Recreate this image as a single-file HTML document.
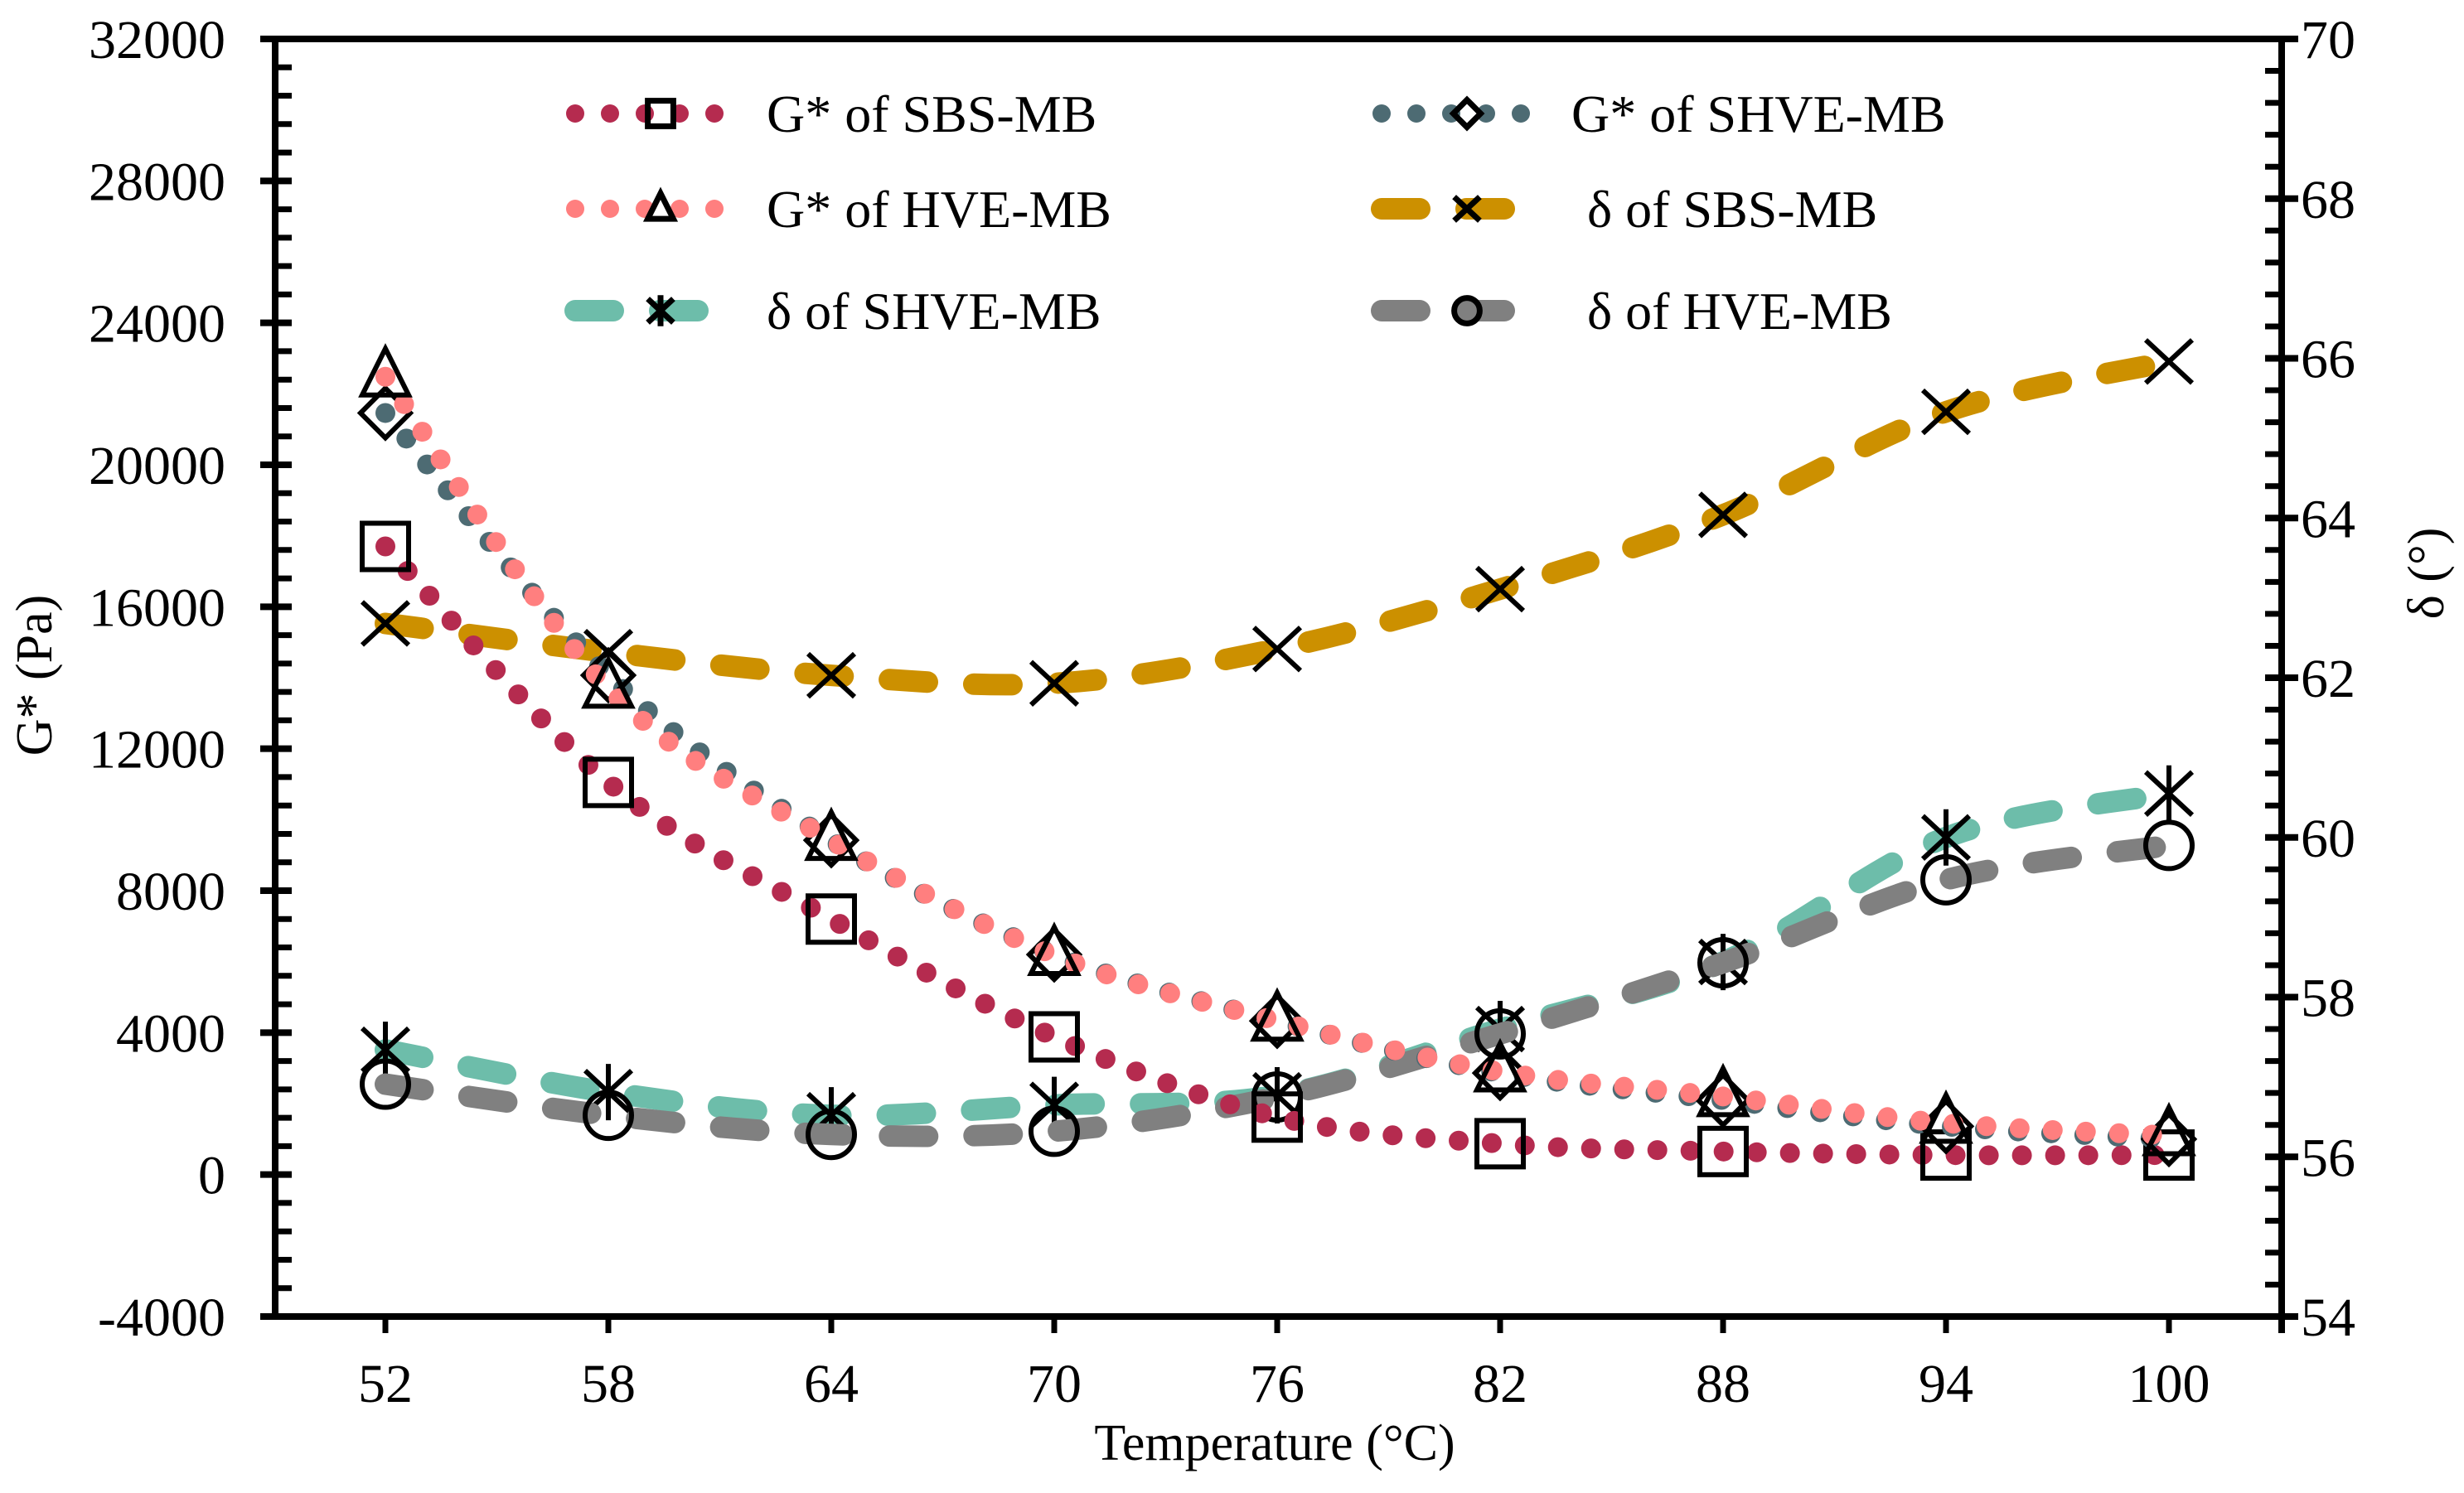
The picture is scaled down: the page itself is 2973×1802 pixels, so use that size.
<!DOCTYPE html>
<html><head><meta charset="utf-8"><style>
html,body{margin:0;padding:0;background:#fff}
svg{display:block}
text{font-family:"Liberation Serif",serif;fill:#000}
</style></head><body>
<svg id="chart" width="2973" height="1802" viewBox="0 0 2973 1802" xmlns="http://www.w3.org/2000/svg">
<g id="axes"></g>
<g id="series"></g>
<g id="legend"></g>
<text transform="translate(62,815) rotate(-90)" text-anchor="middle" font-size="62">G* (Pa)</text>
<text transform="translate(2948,692) rotate(-90)" text-anchor="middle" font-size="62">δ (°)</text>
<text x="1538" y="1762" text-anchor="middle" font-size="62">Temperature (°C)</text>
</svg>
<script>
const categories = [52,58,64,70,76,82,88,94,100];
const gSBS  = [17700,11050,7200,3880,1620,870,650,550,550];
const gSHVE = [21460,14070,9420,6200,4330,2860,2100,1360,1000];
const gHVE  = [22480,13710,9420,6180,4330,2900,2200,1450,1100];
const dSBS  = [62.68,62.32,62.03,61.93,62.36,63.11,64.04,65.33,65.96];
const dSHVE = [57.34,56.81,56.52,56.65,56.77,57.60,58.44,60.00,60.55];
const dHVE  = [56.91,56.52,56.28,56.32,56.75,57.54,58.43,59.47,59.90];
const yTicks = [-4000,0,4000,8000,12000,16000,20000,24000,28000,32000];
const y2Ticks = [54,56,58,60,62,64,66,68,70];

const NS="http://www.w3.org/2000/svg";
const L=332,R=2753,T=47,B=1589;
const x=i=>465+i*(2617-465)/(categories.length-1);
const y=v=>B-(v+4000)/36000*(B-T);
const y2=v=>B-(v-54)/16*(B-T);
function mk(parent,tag,attrs){const e=document.createElementNS(NS,tag);for(const k in attrs)e.setAttribute(k,attrs[k]);parent.appendChild(e);return e;}
const axes=document.getElementById('axes'),ser=document.getElementById('series'),leg=document.getElementById('legend');

let a;
a=mk(axes,'line',{x1:L-4,y1:B,x2:R+4,y2:B,stroke:'#000','stroke-width':8});

a=mk(axes,'line',{x1:L-18,y1:T,x2:R+4,y2:T,stroke:'#000','stroke-width':8});

a=mk(axes,'line',{x1:L,y1:T,x2:L,y2:B+4,stroke:'#000','stroke-width':8});

a=mk(axes,'line',{x1:R,y1:T,x2:R,y2:B+20,stroke:'#000','stroke-width':8});


yTicks.forEach((v,i)=>{
  const t=mk(axes,'line',{x1:L-18,y1:y(v),x2:L+20,y2:y(v),stroke:'#000','stroke-width':8});
  
  const tx=mk(axes,'text',{x:272,y:y(v)+23,'text-anchor':'end','font-size':66});tx.textContent=v;
  
  if(i<yTicks.length-1)for(let k=1;k<5;k++){
    const m=mk(axes,'line',{x1:L,y1:y(v+k*800),x2:L+20,y2:y(v+k*800),stroke:'#000','stroke-width':7});
    
  }
});
y2Ticks.forEach((v,i)=>{
  const t=mk(axes,'line',{x1:R-20,y1:y2(v),x2:R+20,y2:y2(v),stroke:'#000','stroke-width':8});
  
  const tx=mk(axes,'text',{x:2776,y:y2(v)+23,'text-anchor':'start','font-size':66});tx.textContent=v;
  
  if(i<y2Ticks.length-1)for(let k=1;k<5;k++){
    const m=mk(axes,'line',{x1:R-20,y1:y2(v+k*0.4),x2:R,y2:y2(v+k*0.4),stroke:'#000','stroke-width':7});
    
  }
});
categories.forEach((c,i)=>{
  const t=mk(axes,'line',{x1:x(i),y1:B,x2:x(i),y2:B+20,stroke:'#000','stroke-width':7});
  
  const tx=mk(axes,'text',{x:x(i),y:1692,'text-anchor':'middle','font-size':66});tx.textContent=c;
  
});

function smooth(pts){
  let d=`M${pts[0][0]},${pts[0][1]}`;
  for(let i=0;i<pts.length-1;i++){
    const p0=pts[Math.max(0,i-1)],p1=pts[i],p2=pts[i+1],p3=pts[Math.min(pts.length-1,i+2)];
    const c1=[p1[0]+(p2[0]-p0[0])/6,p1[1]+(p2[1]-p0[1])/6];
    const c2=[p2[0]-(p3[0]-p1[0])/6,p2[1]-(p3[1]-p1[1])/6];
    d+=` C${c1[0]},${c1[1]} ${c2[0]},${c2[1]} ${p2[0]},${p2[1]}`;
  }
  return d;
}
function marker(g,type,cx,cy,s){
  s=s||1;
  const st={fill:'none',stroke:'#000','stroke-width':s<1?7:6};let e;
  const q=n=>n*s;
  if(type==='square')e=mk(g,'rect',Object.assign({x:cx-q(28),y:cy-q(28),width:q(56),height:q(56)},st));
  else if(type==='diamond')e=mk(g,'path',Object.assign({d:`M${cx},${cy-q(30)}L${cx+q(30)},${cy}L${cx},${cy+q(30)}L${cx-q(30)},${cy}Z`},st));
  else if(type==='triangle')e=mk(g,'path',Object.assign({d:`M${cx},${cy-q(34)}L${cx+q(28)},${cy+q(22)}L${cx-q(28)},${cy+q(22)}Z`},st));
  else if(type==='x')e=mk(g,'path',Object.assign({d:`M${cx-q(28)},${cy-q(26)}L${cx+q(28)},${cy+q(26)}M${cx-q(28)},${cy+q(26)}L${cx+q(28)},${cy-q(26)}`},st));
  else if(type==='star')e=mk(g,'path',Object.assign({d:`M${cx-q(28)},${cy-q(26)}L${cx+q(28)},${cy+q(26)}M${cx-q(28)},${cy+q(26)}L${cx+q(28)},${cy-q(26)}M${cx},${cy-q(34)}L${cx},${cy+q(34)}`},st));
  else e=mk(g,'ellipse',Object.assign({cx:cx,cy:cy,rx:q(28),ry:q(28)},st));
  return e;
}
const defs=[
 {name:'gstar-sbs',vals:gSBS,sc:y,color:'#B52B4F',dash:'dot',m:'square',label:'G* of SBS-MB',col:0,row:0},
 {name:'gstar-shve',vals:gSHVE,sc:y,color:'#4D6B73',dash:'dot',m:'diamond',label:'G* of SHVE-MB',col:1,row:0},
 {name:'gstar-hve',vals:gHVE,sc:y,color:'#FF7F7F',dash:'dot',m:'triangle',label:'G* of HVE-MB',col:0,row:1},
 {name:'delta-sbs',vals:dSBS,sc:y2,color:'#CC9000',dash:'dash',m:'x',label:'δ of SBS-MB',col:1,row:1},
 {name:'delta-shve',vals:dSHVE,sc:y2,color:'#6DBDAA',dash:'dash',m:'star',label:'δ of SHVE-MB',col:0,row:2},
 {name:'delta-hve',vals:dHVE,sc:y2,color:'#808080',dash:'dash',m:'circle',label:'δ of HVE-MB',col:1,row:2}
];
const dotSty={'stroke-width':24,'stroke-dasharray':'0 40','stroke-linecap':'round'};
const dashSty={'stroke-width':26,'stroke-dasharray':'46 56','stroke-linecap':'round'};
const order=[4,5,3,0,1,2];
order.forEach(k=>{
  const s=defs[k];
  const g=mk(ser,'g',{});
  
  const pts=s.vals.map((v,i)=>[x(i),s.sc(v)]);
  const p=mk(g,'path',Object.assign({d:smooth(pts),fill:'none',stroke:s.color},s.dash==='dot'?dotSty:dashSty));
  
  pts.forEach(pt=>{
    const m=marker(g,s.m,pt[0],pt[1]);
    
  });
});
defs.forEach(s=>{
  const lx=s.col===0?682:1655, ly=[137,252,375][s.row];
  const g=mk(leg,'g',{});
  
  const ln=mk(g,'path',{d:`M${lx+12},${ly} L${lx+215},${ly}`,fill:'none',stroke:s.color});
  const st=s.dash==='dot'?{'stroke-width':22,'stroke-dasharray':'0 42','stroke-linecap':'round'}:{'stroke-width':26,'stroke-dasharray':'46 56','stroke-linecap':'round'};
  for(const k in st)ln.setAttribute(k,st[k]);
  
  const m=marker(g,s.m,s.col===0?797:1770,ly,0.55);
  
  const t=mk(g,'text',{x:s.col===0?925:(s.row===0?1896:1915),y:ly+22,'font-size':64});t.textContent=s.label;
  
});
</script>
</body></html>
